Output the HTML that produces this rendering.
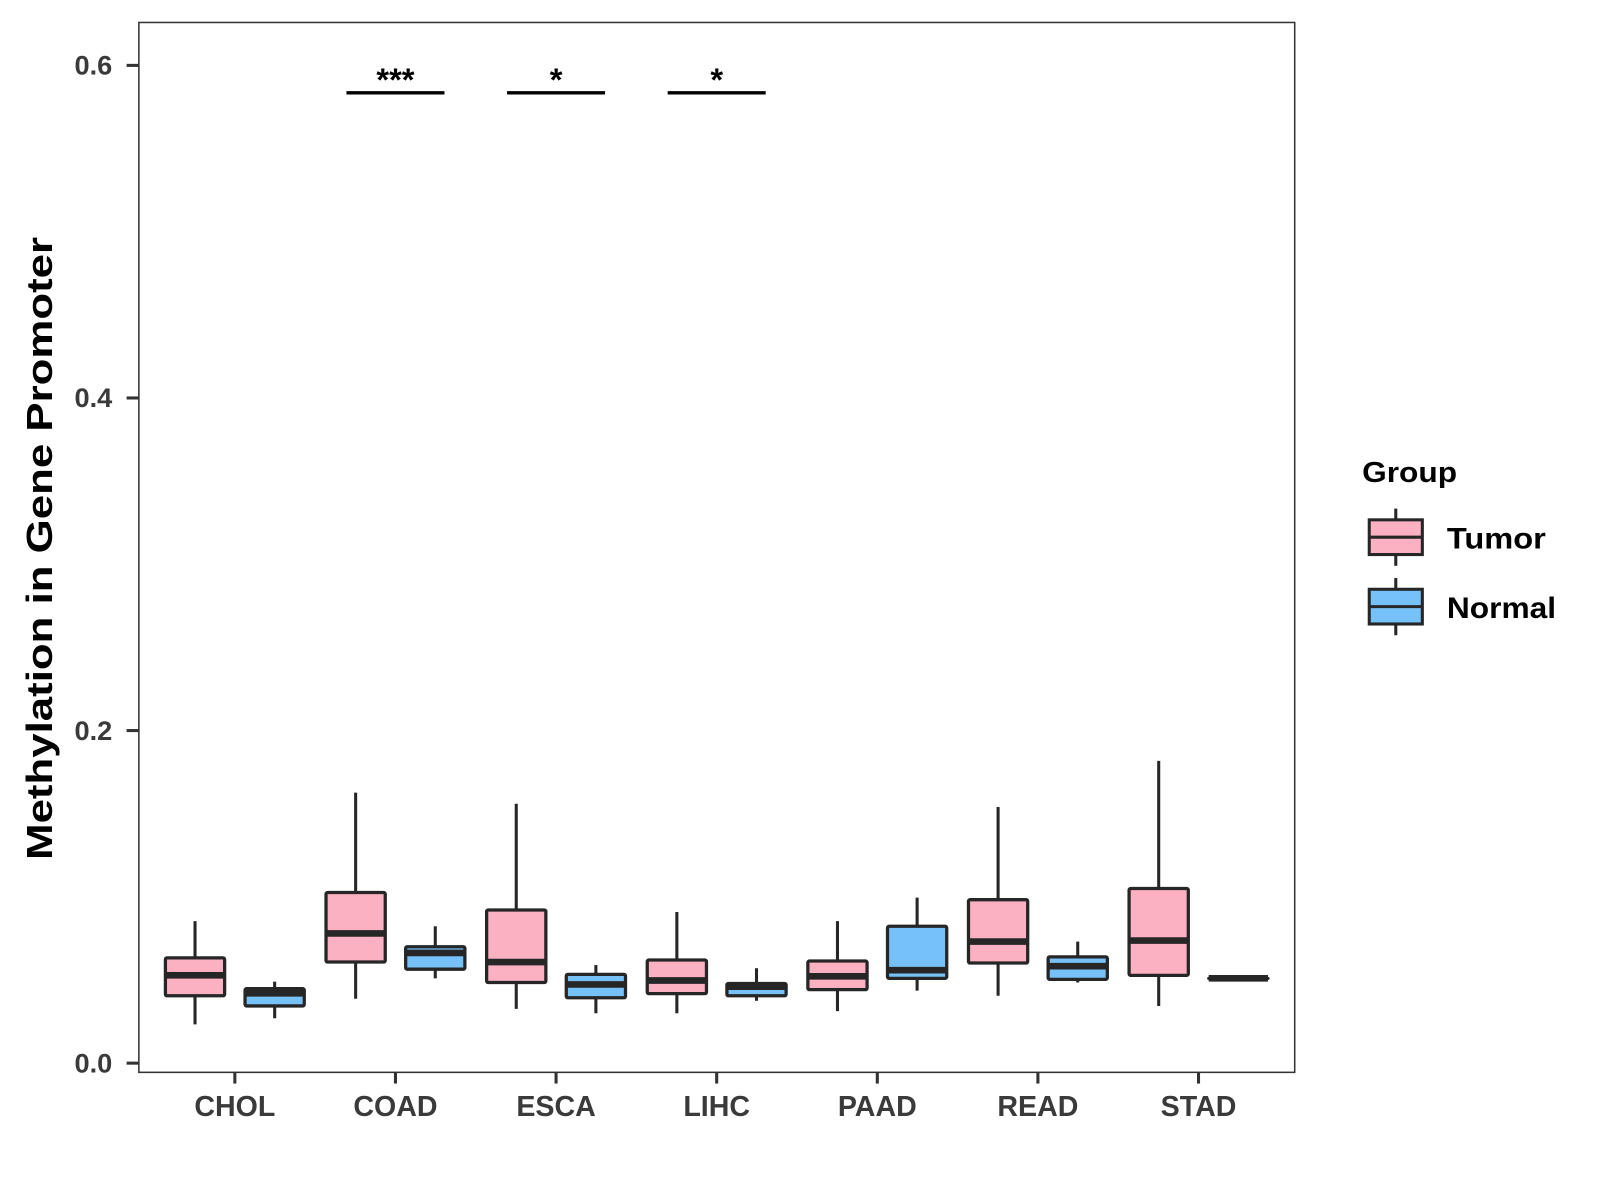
<!DOCTYPE html>
<html><head><meta charset="utf-8"><style>
html,body{margin:0;padding:0;background:#fff;}
svg{display:block;font-family:"Liberation Sans",Arial,sans-serif;}
</style></head><body>
<svg id="chart" width="1600" height="1200" viewBox="0 0 1567 1175" preserveAspectRatio="none" xmlns="http://www.w3.org/2000/svg">
<rect x="0" y="0" width="1567" height="1175" fill="#fff"/>
<g id="plot"></g>
<text transform="translate(51,537) rotate(-90)" text-anchor="middle" font-size="35" font-weight="bold" fill="#000" textLength="610" lengthAdjust="spacingAndGlyphs">Methylation in Gene Promoter</text>
<g>
<text x="1334" y="472" font-size="28" font-weight="bold" fill="#000" textLength="93" lengthAdjust="spacingAndGlyphs">Group</text>
<g>
<line x1="1367" y1="498" x2="1367" y2="554" stroke="#262626" stroke-width="3"/>
<rect x="1341" y="509" width="52" height="34" fill="#FCB1C3" stroke="#262626" stroke-width="3"/>
<line x1="1341" y1="526" x2="1393" y2="526" stroke="#262626" stroke-width="3"/>
<text x="1417" y="537" font-size="29" font-weight="bold" fill="#000" textLength="97" lengthAdjust="spacingAndGlyphs">Tumor</text>
</g>
<g>
<line x1="1367" y1="566" x2="1367" y2="622" stroke="#262626" stroke-width="3"/>
<rect x="1341" y="577" width="52" height="34" fill="#76C1F8" stroke="#262626" stroke-width="3"/>
<line x1="1341" y1="594" x2="1393" y2="594" stroke="#262626" stroke-width="3"/>
<text x="1417" y="605" font-size="29" font-weight="bold" fill="#000" textLength="107" lengthAdjust="spacingAndGlyphs">Normal</text>
</g>
</g>
</svg>
<script>
const categories = ["CHOL","COAD","ESCA","LIHC","PAAD","READ","STAD"];
// [low, q1, median, q3, high]
const tumorStats = [
  [0.0233,0.0405,0.0528,0.0633,0.0854],
  [0.0387,0.0608,0.0780,0.1026,0.1627],
  [0.0326,0.0485,0.0608,0.0921,0.1560],
  [0.0300,0.0418,0.0497,0.0620,0.0909],
  [0.0313,0.0442,0.0522,0.0614,0.0854],
  [0.0405,0.0602,0.0731,0.0983,0.1540],
  [0.0344,0.0528,0.0737,0.1050,0.1818]
];
const normalStats = [
  [0.0270,0.0344,0.0420,0.0448,0.0490],
  [0.0510,0.0565,0.0663,0.0700,0.0823],
  [0.0300,0.0393,0.0473,0.0534,0.0590],
  [0.0375,0.0405,0.0460,0.0479,0.0571],
  [0.0436,0.0510,0.0559,0.0823,0.0995],
  [0.0485,0.0504,0.0583,0.0639,0.0731],
  [0.0510,0.0510,0.0510,0.0510,0.0510]
];
const yTicks = [0.0,0.2,0.4,0.6];
const yTickLabels = ["0.0","0.2","0.4","0.6"];
const sigCategories = ["COAD","ESCA","LIHC"];
const sigLabels = ["***","*","*"];
const sigValue = 0.5835;

const NS="http://www.w3.org/2000/svg";
const plot=document.getElementById('plot');
const P={l:136,r:1268,t:22,b:1050};
function yScale(v){return 1041 - v*1628.3;}
function xScale(i){return 230 + i*157.3;}
function mk(tag,attrs,parent){const e=document.createElementNS(NS,tag);for(const k in attrs)e.setAttribute(k,attrs[k]);(parent||plot).appendChild(e);return e;}

const frame=mk('rect',{x:P.l,y:P.t,width:P.r-P.l,height:P.b-P.t,fill:'none',stroke:'#333',"stroke-width":1.5});



yTicks.forEach((v,i)=>{
  const y=yScale(v);
  const t=mk('line',{x1:P.l-12,x2:P.l,y1:y,y2:y,stroke:'#333',"stroke-width":3});
  
  
  const lb=mk('text',{x:P.l-26,y:y+9,"text-anchor":'end',"font-size":26,"font-weight":'bold',fill:'#3a3a3a',textLength:37,lengthAdjust:'spacingAndGlyphs'});
  lb.textContent=yTickLabels[i];
  
  
});
categories.forEach((c,i)=>{
  const x=xScale(i);
  const t=mk('line',{x1:x,x2:x,y1:P.b,y2:P.b+11,stroke:'#333',"stroke-width":3});
  
  
  const lb=mk('text',{x:x,y:1093,"text-anchor":'middle',"font-size":28,"font-weight":'bold',fill:'#3a3a3a'});
  lb.textContent=c;
  
  
});

function drawBox(s,cx,fill,name){
  const g=mk('g',{});
  
  
  const hw=29;
  mk('line',{x1:cx,x2:cx,y1:yScale(s[4]),y2:yScale(s[0]),stroke:'#262626',"stroke-width":3},g);
  const y3=yScale(s[3]),y1=yScale(s[1]);
  mk('rect',{x:cx-hw,y:y3,width:2*hw,height:Math.max(y1-y3,0.1),fill:fill,stroke:'#262626',"stroke-width":3.2,rx:1.5},g);
  const ym=yScale(s[2]);
  mk('line',{x1:cx-hw,x2:cx+hw,y1:ym,y2:ym,stroke:'#262626',"stroke-width":6.5},g);
}
categories.forEach((c,i)=>{
  drawBox(tumorStats[i],xScale(i)-39,'#FCB1C3','box-tumor-'+c.toLowerCase());
  drawBox(normalStats[i],xScale(i)+39,'#76C1F8','box-normal-'+c.toLowerCase());
});
sigCategories.forEach((c,k)=>{
  const i=categories.indexOf(c);
  const x=xScale(i), y=yScale(sigValue);
  const ln=mk('line',{x1:x-48,x2:x+48,y1:y,y2:y,stroke:'#000',"stroke-width":3.2});
  
  
  const t=mk('text',{x:x,y:y-2,"text-anchor":'middle',"font-size":32,"font-weight":'bold',fill:'#000'});
  t.textContent=sigLabels[k];
  
  
});
</script>
</body></html>
